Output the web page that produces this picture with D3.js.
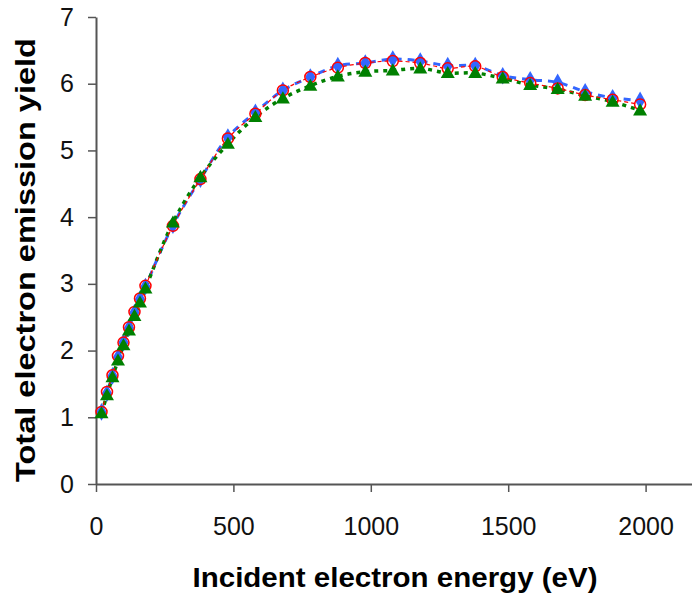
<!DOCTYPE html>
<html>
<head>
<meta charset="utf-8">
<script src="https://cdn.jsdelivr.net/npm/d3@7"></script>
<style>
  body { margin: 0; background: #fff; }
  text { font-family: "Liberation Sans", Arial, sans-serif; }
</style>
</head>
<body>
<svg width="692" height="599"></svg>
<script>
var energy = [20, 40, 60, 80, 100, 120, 140, 160, 180, 280, 380, 480, 580, 680, 780, 880, 980, 1080, 1180, 1280, 1380, 1480, 1580, 1680, 1780, 1880, 1980];
var yieldRed = [1.08, 1.38, 1.63, 1.92, 2.12, 2.35, 2.58, 2.78, 2.97, 3.87, 4.57, 5.18, 5.55, 5.9, 6.1, 6.24, 6.31, 6.34, 6.31, 6.23, 6.26, 6.1, 6.01, 5.93, 5.83, 5.76, 5.69];
var yieldBlue = [1.08, 1.36, 1.62, 1.9, 2.12, 2.34, 2.57, 2.77, 2.96, 3.88, 4.57, 5.2, 5.57, 5.9, 6.1, 6.27, 6.31, 6.37, 6.34, 6.27, 6.27, 6.12, 6.06, 6.02, 5.88, 5.79, 5.75];
var yieldGreen = [1.06, 1.33, 1.6, 1.85, 2.08, 2.3, 2.52, 2.72, 2.93, 3.92, 4.6, 5.1, 5.5, 5.78, 5.97, 6.11, 6.18, 6.2, 6.23, 6.16, 6.16, 6.08, 5.98, 5.92, 5.82, 5.73, 5.6];
var xTicks = [0, 500, 1000, 1500, 2000];
var yTicks = [0, 1, 2, 3, 4, 5, 6, 7];

var svg = d3.select("svg");

var x = d3.scaleLinear().domain([0, 2500]).range([96, 783]);
var y = d3.scaleLinear().domain([0, 7]).range([484, 17]);

// axes
var xAxis = svg.append("g")
  .attr("transform", "translate(0," + y(0) + ")")
  .call(d3.axisBottom(x).tickValues(xTicks).tickFormat(d3.format("d"))
    .tickSize(8).tickPadding(25).tickSizeOuter(0));
var yAxis = svg.append("g")
  .attr("transform", "translate(" + x(0) + ",0)")
  .call(d3.axisLeft(y).tickValues(yTicks).tickFormat(d3.format("d"))
    .tickSize(8).tickPadding(14).tickSizeOuter(0));

[xAxis, yAxis].forEach(function(a) {
  a.select(".domain").attr("stroke", "#555").attr("stroke-width", 2);
  a.selectAll(".tick line").attr("stroke", "#555").attr("stroke-width", 1.5);
  a.selectAll(".tick text").attr("font-size", 25).attr("fill", "#111")
    .style("font-family", "'Liberation Sans', Arial, sans-serif");
});

svg.append("text")
  .attr("x", 395).attr("y", 587)
  .attr("text-anchor", "middle")
  .attr("font-size", 27).attr("font-weight", "bold")
  .attr("textLength", 405).attr("lengthAdjust", "spacingAndGlyphs")
  .text("Incident electron energy (eV)");

svg.append("text")
  .attr("transform", "translate(35,260) rotate(-90)")
  .attr("text-anchor", "middle")
  .attr("font-size", 28).attr("font-weight", "bold")
  .attr("textLength", 444).attr("lengthAdjust", "spacingAndGlyphs")
  .text("Total electron emission yield");

function pts(vals) {
  return energy.map(function(e, i) { return [e, vals[i]]; });
}

var line = d3.line()
  .x(function(d) { return x(d[0]); })
  .y(function(d) { return y(d[1]); })
  .curve(d3.curveCatmullRom.alpha(0.5));

// lines
svg.append("path").datum(pts(yieldBlue))
  .attr("d", line).attr("fill", "none")
  .attr("stroke", "#3366ff").attr("stroke-width", 3).attr("stroke-dasharray", "7,6");
svg.append("path").datum(pts(yieldGreen))
  .attr("d", line).attr("fill", "none")
  .attr("stroke", "#008000").attr("stroke-width", 3.5).attr("stroke-dasharray", "4,5");
svg.append("path").datum(pts(yieldRed))
  .attr("d", line).attr("fill", "none")
  .attr("stroke", "#ff0000").attr("stroke-width", 1.2).attr("stroke-dasharray", "4,3");

// markers
svg.append("g").selectAll("path")
  .data(pts(yieldBlue)).enter().append("path")
  .attr("d", d3.symbol().type(d3.symbolDiamond).size(90))
  .attr("transform", function(d) { return "translate(" + x(d[0]) + "," + y(d[1]) + ")"; })
  .attr("fill", "#3366ff");

svg.append("g").selectAll("circle")
  .data(pts(yieldRed)).enter().append("circle")
  .attr("cx", function(d) { return x(d[0]); })
  .attr("cy", function(d) { return y(d[1]); })
  .attr("r", 5.5)
  .attr("fill", "none").attr("stroke", "#ff0000").attr("stroke-width", 1.5);

svg.append("g").selectAll("path")
  .data(pts(yieldGreen)).enter().append("path")
  .attr("d", d3.symbol().type(d3.symbolTriangle).size(85))
  .attr("transform", function(d) { return "translate(" + x(d[0]) + "," + (y(d[1]) + 1) + ")"; })
  .attr("fill", "#008000");
</script>
</body>
</html>
